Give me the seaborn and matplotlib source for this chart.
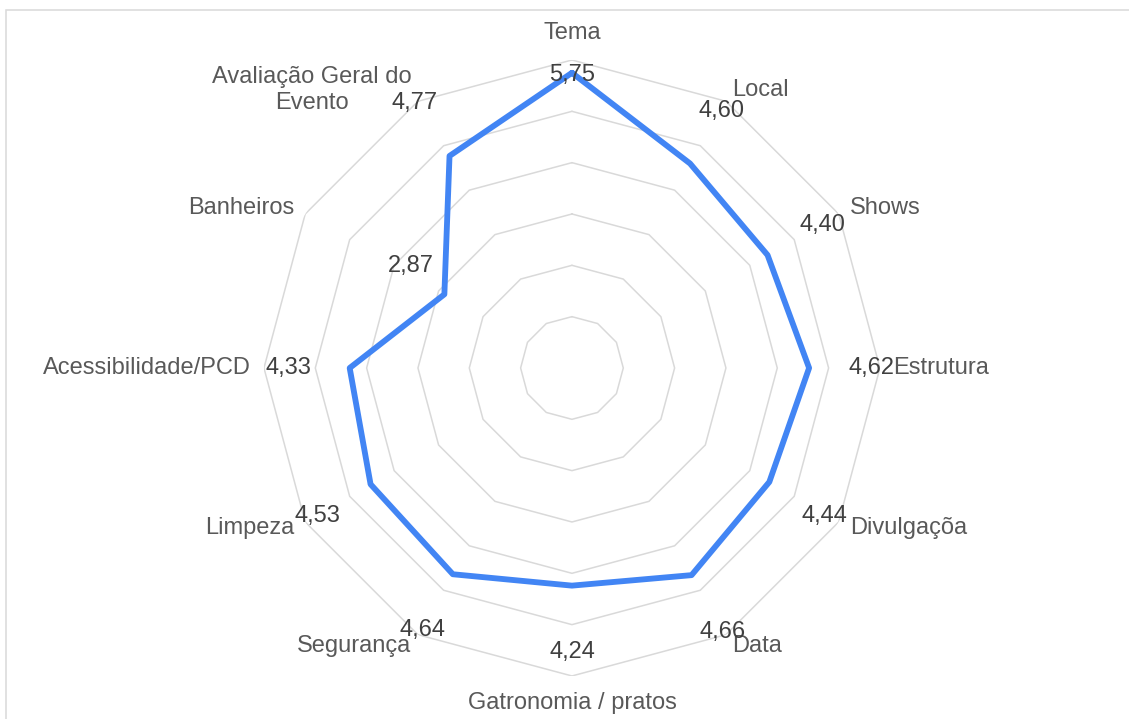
"""
Radar chart: average score per event aspect.
"""

import numpy as np
import pandas as pd
import matplotlib.pyplot as plt
from matplotlib.patches import Rectangle
import seaborn as sns

# data
categories = [
    "Tema", "Local", "Shows", "Estrutura", "Divulgaçõa", "Data",
    "Gatronomia / pratos", "Segurança", "Limpeza", "Acessibilidade/PCD",
    "Banheiros", "Avaliação Geral do\nEvento",
]
scores = [5.75, 4.60, 4.40, 4.62, 4.44, 4.66, 4.24, 4.64, 4.53, 4.33, 2.87, 4.77]
rings = [1, 2, 3, 4, 5, 6]

# data label offsets (pixels, x right / y up) from each point
label_offsets = [(0, -2), (31, 52), (55, 30), (62, 0), (55, -34), (31, -57),
                 (0, -66), (-30, -56), (-53, -32), (-61, 0), (-33, 28), (-35, 53)]

sns.set_style("white")
plt.rcParams["font.family"] = ["Liberation Sans", "DejaVu Sans"]

n = len(categories)
theta = np.linspace(0, 2 * np.pi, n, endpoint=False)
df = pd.DataFrame({"theta": theta, "score": scores})
closed = pd.concat([df, df.iloc[[0]].assign(theta=2 * np.pi)], ignore_index=True)

fig = plt.figure(figsize=(11.29, 7.19), dpi=100)
ax = fig.add_axes([0.2338, 0.0598, 0.5456, 0.8568], projection="polar")
ax.set_theta_zero_location("N")
ax.set_theta_direction(-1)
ax.set_ylim(0, 6)
ax.grid(False)
ax.spines["polar"].set_visible(False)
ax.set_xticks([])
ax.set_yticks([])
ax.patch.set_alpha(0)

# polygon gridlines
ring_theta = np.append(theta, 2 * np.pi)
for r in rings:
    ax.plot(ring_theta, [r] * len(ring_theta), color="#D9D9D9", lw=1.1, zorder=1)

sns.lineplot(data=closed, x="theta", y="score", sort=False, ax=ax,
             color="#4285F4", lw=4.2, zorder=3)
ax.set_xlabel("")
ax.set_ylabel("")

# data labels
for t, v, (dx, dy) in zip(theta, scores, label_offsets):
    ax.annotate(f"{v:.2f}".replace(".", ","), (t, v), xytext=(dx, dy),
                textcoords="offset pixels", ha="center", va="center",
                fontsize=17, color="#404040", zorder=4)

# category labels
for t, name in zip(theta, categories):
    deg = np.degrees(t)
    if np.isclose(deg, 0) or np.isclose(deg, 180):
        ax.text(t, 6.53, name, ha="center", va="center", fontsize=17, color="#595959")
    else:
        ha = "left" if deg < 180 else "right"
        ax.text(t, 6.25, name, ha=ha, va="center", fontsize=17, color="#595959",
                multialignment="center")

# chart border
fig.add_artist(Rectangle((5.5 / 1129, -0.1), 1.1, 1.1 - 10.5 / 719,
                         transform=fig.transFigure, fill=False,
                         edgecolor="#D9D9D9", lw=1.1))

plt.savefig("out.png", dpi=100)
